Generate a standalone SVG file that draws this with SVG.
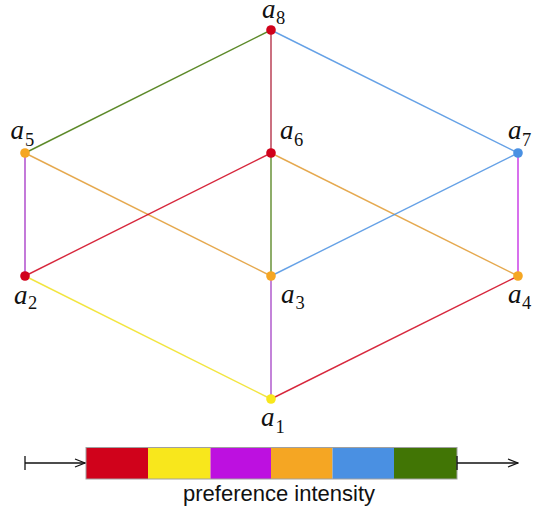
<svg xmlns="http://www.w3.org/2000/svg" width="533" height="508" viewBox="0 0 533 508">
<style>
.e{stroke-width:1.4;fill:none;stroke-opacity:0.85}
.n{stroke:none}
.lbl{font-family:"Liberation Serif","DejaVu Serif",serif;font-style:italic;font-size:27px;fill:#111}
.sub{font-family:"Liberation Serif","DejaVu Serif",serif;font-size:18.5px;fill:#111}
.ax{stroke:#111;stroke-width:1.3;fill:none}
.cap{font-family:"Liberation Sans",Arial,sans-serif;font-size:22px;fill:#111}
</style>
<defs>
<marker id="arr" viewBox="0 0 12 10" refX="11" refY="5" markerWidth="12" markerHeight="10" markerUnits="userSpaceOnUse" orient="auto">
<path d="M1,1 L11,5 L1,9" fill="none" stroke="#111" stroke-width="1.3"/>
</marker>
</defs>
<g id="connectors">
<line class="e" x1="271" y1="30" x2="25" y2="153" stroke="#417505"/>
<line class="e" x1="271" y1="30" x2="271" y2="153" stroke="#a8102a"/>
<line class="e" x1="271" y1="30" x2="518" y2="153" stroke="#4a90e2"/>
<line class="e" x1="25" y1="153" x2="25" y2="276" stroke="#9b20c0"/>
<line class="e" x1="25" y1="153" x2="271" y2="276" stroke="#e09a30"/>
<line class="e" x1="271" y1="153" x2="25" y2="276" stroke="#d0021b"/>
<line class="e" x1="271" y1="153" x2="271" y2="276" stroke="#417505"/>
<line class="e" x1="271" y1="153" x2="518" y2="276" stroke="#e09a30"/>
<line class="e" x1="518" y1="153" x2="271" y2="276" stroke="#4a90e2"/>
<line class="e" x1="518" y1="153" x2="518" y2="276" stroke="#bd10e0"/>
<line class="e" x1="25" y1="276" x2="271" y2="399" stroke="#f0e020"/>
<line class="e" x1="271" y1="276" x2="271" y2="399" stroke="#9b30c0"/>
<line class="e" x1="518" y1="276" x2="271" y2="399" stroke="#d0021b"/>
</g>
<g id="a8"><circle class="n" cx="271" cy="30" r="4.8" fill="#d0021b"/><text class="lbl" x="262" y="18">a</text><text class="sub" x="276" y="23.5">8</text></g>
<g id="a5"><circle class="n" cx="25" cy="153" r="4.8" fill="#f5a623"/><text class="lbl" x="10.5" y="139">a</text><text class="sub" x="25" y="145.5">5</text></g>
<g id="a6"><circle class="n" cx="271" cy="153" r="4.8" fill="#d0021b"/><text class="lbl" x="280" y="139">a</text><text class="sub" x="294" y="145.5">6</text></g>
<g id="a7"><circle class="n" cx="518" cy="153" r="4.8" fill="#4a90e2"/><text class="lbl" x="508" y="139">a</text><text class="sub" x="522" y="145.5">7</text></g>
<g id="a2"><circle class="n" cx="25" cy="276" r="4.8" fill="#d0021b"/><text class="lbl" x="14" y="304">a</text><text class="sub" x="28" y="308.5">2</text></g>
<g id="a3"><circle class="n" cx="271" cy="276" r="4.8" fill="#f5a623"/><text class="lbl" x="281" y="303">a</text><text class="sub" x="295.5" y="308.5">3</text></g>
<g id="a4"><circle class="n" cx="518" cy="276" r="4.8" fill="#f5a623"/><text class="lbl" x="508" y="303">a</text><text class="sub" x="522" y="308.5">4</text></g>
<g id="a1"><circle class="n" cx="271" cy="399" r="4.8" fill="#f8e71c"/><text class="lbl" x="261" y="426">a</text><text class="sub" x="275.5" y="432.5">1</text></g>
<g id="legend">
<rect x="86" y="447.5" width="62" height="31.5" fill="#d0021b"/>
<rect x="148" y="447.5" width="62.5" height="31.5" fill="#f8e71c"/>
<rect x="210.5" y="447.5" width="60.5" height="31.5" fill="#bd10e0"/>
<rect x="271" y="447.5" width="61.5" height="31.5" fill="#f5a623"/>
<rect x="332.5" y="447.5" width="61.5" height="31.5" fill="#4a90e2"/>
<rect x="394" y="447.5" width="63" height="31.5" fill="#417505"/>
<rect x="86" y="447.5" width="371" height="31.5" fill="none" stroke="#a0a0a0" stroke-width="1"/>
<line class="ax" x1="25" y1="456" x2="25" y2="470"/>
<line class="ax" x1="25" y1="463" x2="85" y2="463" marker-end="url(#arr)"/>
<line class="ax" x1="457" y1="456" x2="457" y2="470"/>
<line class="ax" x1="457" y1="463" x2="518" y2="463" marker-end="url(#arr)"/>
<text class="cap" x="279" y="500.5" text-anchor="middle">preference intensity</text>
</g>
</svg>
